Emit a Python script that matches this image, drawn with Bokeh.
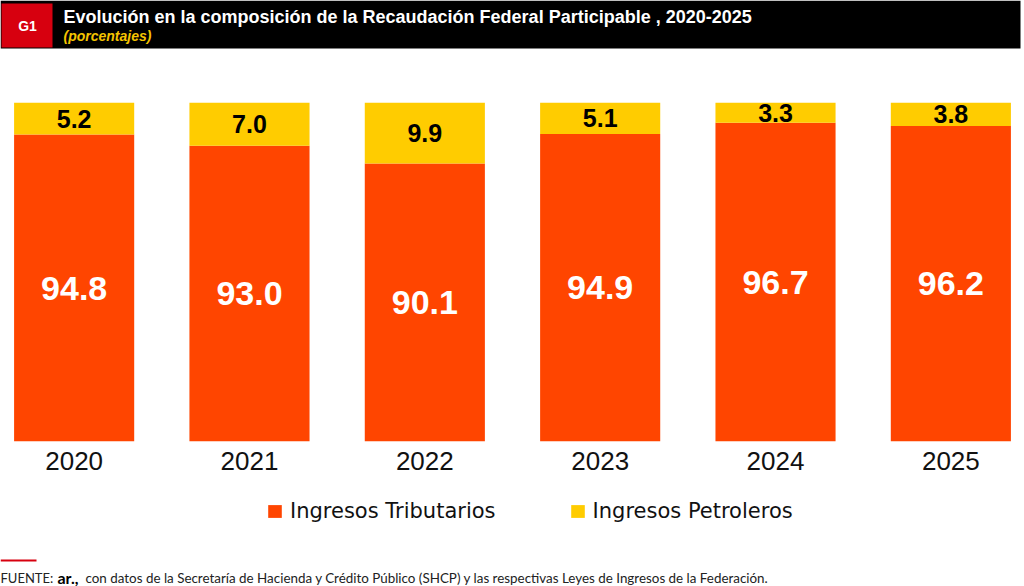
from bokeh.plotting import figure
from bokeh.models import (Range1d, ColumnDataSource, FixedTicker, Legend, LegendItem)
from bokeh.layouts import column
from bokeh.core.properties import value
from bokeh.embed import file_html
from bokeh.resources import INLINE

# Composition of federal participable revenue (percent)
years = ["2020", "2021", "2022", "2023", "2024", "2025"]
tributarios = [94.8, 93.0, 90.1, 94.9, 96.7, 96.2]
petroleros = [5.2, 7.0, 9.9, 5.1, 3.3, 3.8]

title_text = "Evolución en la composición de la Recaudación Federal Participable , 2020-2025"
subtitle_text = "(porcentajes)"
legend_labels = ["Ingresos Tributarios", "Ingresos Petroleros"]

RED = "#FF4500"
YELLOW = "#FFCC00"
W = 1024
Y0 = 45  # lower bound of the value axis

# ---------- header band ----------
hdr = figure(width=W, height=50, x_range=Range1d(0, W), y_range=Range1d(50, 0),
             output_backend="svg", toolbar_location=None,
             min_border=0, x_axis_location=None, y_axis_location=None)
hdr.outline_line_color = None
hdr.grid.visible = False
hdr.quad(left=[0], right=[1020], top=[0], bottom=[48], fill_color="black", line_color=None)
hdr.quad(left=[1], right=[52], top=[3], bottom=[47], fill_color="#D7000F", line_color=None)
hdr.text(x=[27], y=[25], text=["G1"], text_color="white", text_font=value("Liberation Sans"),
         text_font_style="bold", text_font_size="14px", text_align="center", text_baseline="middle")
hdr.text(x=[63], y=[16], text=[title_text], text_color="white", text_font=value("Liberation Sans"),
         text_font_style="bold", text_font_size="18px", text_align="left", text_baseline="middle")
hdr.text(x=[63], y=[35], text=[subtitle_text], text_color="#F5C400", text_font=value("Liberation Sans"),
         text_font_style="bold italic", text_font_size="14px", text_align="left", text_baseline="middle")

# ---------- stacked bars ----------
xs = list(range(len(years)))
src = ColumnDataSource(dict(
    x=xs,
    trib=tributarios,
    pet_top=[t + p for t, p in zip(tributarios, petroleros)],
    base=[Y0] * len(years),
    trib_lbl=[f"{v:.1f}" for v in tributarios],
    pet_lbl=[f"{v:.1f}" for v in petroleros],
    trib_mid=[(Y0 + t) / 2 for t in tributarios],
    pet_mid=[t + p / 2 for t, p in zip(tributarios, petroleros)],
))

p = figure(width=W, height=435, x_range=Range1d(-0.42, 5.42), y_range=Range1d(Y0, 100),
           output_backend="svg", toolbar_location=None, y_axis_location=None,
           min_border_top=52, min_border_bottom=44, min_border_left=0, min_border_right=0)
p.outline_line_color = None
p.grid.visible = False

r_trib = p.vbar(x="x", bottom="base", top="trib", width=0.685, source=src,
                fill_color=RED, line_color=None)
r_pet = p.vbar(x="x", bottom="trib", top="pet_top", width=0.685, source=src,
               fill_color=YELLOW, line_color=None)

p.text(x="x", y="trib_mid", text="trib_lbl", source=src, text_color="white",
       text_font=value("Liberation Sans"), text_font_style="bold", text_font_size="34px",
       text_align="center", text_baseline="middle")
p.text(x="x", y="pet_mid", text="pet_lbl", source=src, text_color="black",
       text_font=value("Liberation Sans"), text_font_style="bold", text_font_size="25px",
       text_align="center", text_baseline="middle")

ax = p.xaxis[0]
ax.ticker = FixedTicker(ticks=xs)
ax.major_label_overrides = {i: y for i, y in zip(xs, years)}
ax.axis_line_color = None
ax.major_tick_line_color = None
ax.minor_tick_line_color = None
ax.major_tick_out = 0
ax.major_label_standoff = 10
ax.major_label_text_font = "Liberation Sans"
ax.major_label_text_font_size = "26px"
ax.major_label_text_color = "#111111"

# ---------- legend and source note ----------
ftr = figure(width=W, height=101, x_range=Range1d(0, W), y_range=Range1d(586, 485),
             output_backend="svg", toolbar_location=None,
             min_border=0, x_axis_location=None, y_axis_location=None)
ftr.outline_line_color = None
ftr.grid.visible = False

# swatch renderers for the legend (same styling as the bars), kept off-canvas
sw_trib = ftr.vbar(x=[-100], top=[600], bottom=[590], width=1, fill_color=RED, line_color=None)
sw_pet = ftr.vbar(x=[-100], top=[600], bottom=[590], width=1, fill_color=YELLOW, line_color=None)
legend = Legend(items=[LegendItem(label=legend_labels[0], renderers=[sw_trib]),
                       LegendItem(label=legend_labels[1], renderers=[sw_pet])],
                location=(266, 63), orientation="horizontal",
                glyph_width=17, glyph_height=16, label_standoff=7, spacing=73,
                padding=0, margin=0, border_line_color=None, background_fill_alpha=0,
                label_text_font="DejaVu Sans", label_text_font_size="21px",
                label_text_color="#111111")
ftr.add_layout(legend)

ftr.segment(x0=[0], y0=[560], x1=[36], y1=[560], line_color="#D7000F", line_width=2)
note_font = value("Lato")
ftr.text(x=[0], y=[577], text=["FUENTE:"], text_color="#222222", text_font=note_font,
         text_font_size="13px", text_baseline="middle")
ftr.text(x=[57], y=[577], text=["ar.,"], text_color="black", text_font=note_font,
         text_font_style="bold", text_font_size="16px", text_baseline="middle")
ftr.text(x=[85], y=[577],
         text=["con datos de la Secretaría de Hacienda y Crédito Público (SHCP) y las respectivas Leyes de Ingresos de la Federación."],
         text_color="#222222", text_font=note_font, text_font_size="13.4px", text_baseline="middle")

layout = column(hdr, p, ftr, spacing=0)
open("out.html", "w").write(file_html(layout, INLINE))
